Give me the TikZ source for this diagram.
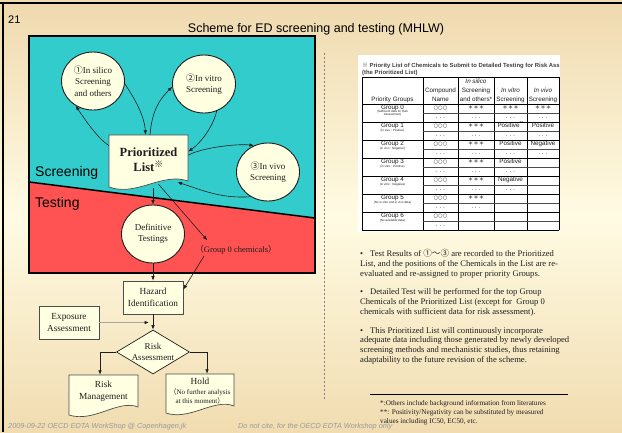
\documentclass[tikz,border=0pt]{standalone}
\usepackage{fontspec}
\setmainfont{Liberation Serif}
\setsansfont{Liberation Sans}
\newfontfamily\cjk{Noto Sans CJK JP}
\newfontfamily\dvs{DejaVu Sans}
\usetikzlibrary{shapes.geometric,arrows.meta,calc}
\definecolor{bgtop}{HTML}{EFD9AE}
\definecolor{bgmid}{HTML}{FFFBE3}
\definecolor{bgbot}{HTML}{F1DCB0}
\definecolor{tealfill}{HTML}{33CCCC}
\definecolor{redfill}{HTML}{FF5252}
\definecolor{cream}{HTML}{FFFFE2}
\definecolor{ink}{HTML}{1E1E1E}
\definecolor{footgray}{HTML}{9A9A9A}
\newcommand{\fsz}[2]{\fontsize{#1}{#2}\selectfont}
\newcommand{\bul}{\makebox[10pt][l]{•}}
\tikzset{
  bubble/.style={ellipse, draw=ink, line width=0.9pt, fill=cream, inner sep=0pt,
    minimum width=63pt, minimum height=58pt, align=center, font=\fsz{9}{11.5}, text=ink},
  boxn/.style={rectangle, draw=gray!60!black, line width=0.7pt, fill=cream, align=center,
    font=\fsz{9.3}{12.3}, text=ink, inner sep=0pt, minimum width=60pt, minimum height=33pt},
  docfill/.style={draw=gray!60!black, line width=0.7pt, fill=cream},
  txt/.style={inner sep=0pt, align=center, text=ink},
  arr/.style={draw=ink, line width=0.6pt, -{Latex[length=4.5pt,width=3.6pt]}},
  region/.style={font=\sffamily\fsz{14}{16}, text=black, inner sep=0pt, anchor=base west},
  tcell/.style={font=\sffamily\fsz{6.3}{7}, text=ink, inner sep=0pt, anchor=base},
  tnote/.style={font=\sffamily\fsz{3}{3.5}, text=ink, inner sep=0pt, anchor=base},
  ttl/.style={font=\sffamily\bfseries\fsz{5.9}{7}, text=ink!85, inner sep=0pt, anchor=base west},
  tgrid/.style={draw=black, line width=1pt},
  tsub/.style={draw=black!70, line width=1.2pt},
  bline/.style={font=\fsz{8.6}{10}, text=ink, inner sep=0pt, anchor=base west},
  footnote/.style={font=\fsz{7.2}{9}, text=ink, inner sep=0pt, anchor=base west},
  footer/.style={font=\sffamily\itshape\fsz{7.3}{8}, text=footgray, inner sep=0pt, anchor=base west},
}
\begin{document}
\begin{tikzpicture}[x=1pt,y=-1pt]
\useasboundingbox (0,0) rectangle (622,432);
\shade[top color=bgtop, bottom color=bgbot, middle color=bgmid] (0,0) rectangle (622,432);
\draw[black, line width=2pt] (0,3) -- (622,3);
\draw[black, line width=2pt] (3,3) -- (3,432);

% title
\node[font=\sffamily\fsz{11}{13}, inner sep=0pt, anchor=base west] (pageno) at (8,23) {21};
\node[font=\sffamily\fsz{12.5}{15}, inner sep=0pt, anchor=base] (title) at (316,32) {Scheme for ED screening and testing (MHLW)};

% coloured regions
\fill[tealfill] (29,36) -- (315,36) -- (315,218) -- (29,182) -- cycle;
\fill[redfill] (29,182) -- (315,218) -- (315,273) -- (29,273) -- cycle;
\draw[black, line width=1.5pt] (29,182) -- (315,218);
\draw[black, line width=2pt] (29,36) rectangle (315,273);
\node[region] (scr) at (35,176) {Screening};
\node[region] (tst) at (35,207) {Testing};

% dashed separator
\draw[gray, line width=0.6pt, dash pattern=on 2pt off 2pt] (324,53) -- (324,400);

% screening nodes
\node[bubble] (silico) at (93,81) {{\cjk ①}In silico\\Screening\\and others};
\node[bubble] (vitro) at (204,84) {{\cjk ②}In vitro\\Screening};
\node[bubble] (vivo) at (268,172) {{\cjk ③}In vivo\\Screening};
\draw[docfill] (109,135) -- (188,135) -- (188,181) .. controls (162,172) and (136,197) .. (109,187) -- cycle;
\node[txt, font=\bfseries\fsz{12.5}{15}, minimum width=79pt, minimum height=50pt] (plist) at (148.5,160) {Prioritized\\List\textsuperscript{\cjk ※}};
\node[bubble] (defin) at (153,234) {Definitive\\Testings};
\node[txt, font=\fsz{8.5}{10}] (g0) at (236,250) {{\cjk （}Group 0 chemicals{\cjk ）}};

% lower flow
\node[boxn] (haz) at (153,297.5) {Hazard\\Identification};
\node[boxn] (expo) at (69,322.5) {Exposure\\Assessment};
\node[diamond, draw=ink, line width=0.7pt, fill=cream, aspect=1.66, inner sep=0pt,
  minimum width=73pt, minimum height=44pt, align=center, font=\fsz{9}{10.6}, text=ink] (risk) at (153,352) {Risk\\Assessment};
\draw[docfill] (69,375) -- (138,375) -- (138,407) .. controls (118,399) and (94,423) .. (69,415) -- cycle;
\node[txt, font=\fsz{9.3}{12.3}, minimum width=69pt, minimum height=32pt] (rm) at (103.5,391) {Risk\\Management};
\draw[docfill] (166,374) -- (234,374) -- (234,406) .. controls (214,398) and (190,421) .. (166,413) -- cycle;
\node[inner sep=0pt, minimum width=68pt, minimum height=32pt] (hold) at (200,390) {};
\node[txt, font=\fsz{9.3}{11}, anchor=base] (holdt) at (200,384.5) {Hold};
\node[txt, font=\fsz{7}{8.7}] (holdn) at (200,396.5) {{\cjk （}No further analysis\\at this moment{\cjk ）}};

% connectors
\draw[arr] (plist.160) .. controls +(-12,-8) and +(8,12) .. (silico.235);
\draw[arr] (silico.-5) .. controls +(8,12) and +(-1,-20) .. ([xshift=-3pt]plist.north);
\draw[arr] ([xshift=1.5pt]plist.north) .. controls +(2,-25) and +(-12,12) .. (vitro.185);
\draw[arr] (vitro.295) .. controls +(-3,15) and +(12,-8) .. (plist.12);
\draw[arr] (plist.7) .. controls +(15,-8) and +(-15,-2) .. (vivo.118);
\draw[arr] (vivo.235) .. controls +(-30,2) and +(25,8) .. ($(plist.south)+(29,-3)$);
\draw[arr] ($(plist.south -| defin.north)+(0,3)$) -- (defin.north);
\draw[arr] ($(plist.south)+(10,-1)$) -- ($(g0.north west)+(12,-5)$);
\draw[arr] ($(g0.south west)+(9,1)$) -- ([yshift=8pt]haz.east);
\draw[arr] (defin.south) -- (haz.north);
\draw[arr] (haz.south) -- (risk.north);
\draw[draw=gray!70, line width=1.2pt, -{Latex[length=4.5pt,width=3.6pt,color=ink]}] (expo.east) -- ([xshift=-4pt]expo.east -| risk.north);
\draw[arr, line width=0.8pt] (risk.west) -| ([xshift=-3.5pt]rm.north);
\draw[arr, line width=0.8pt] (risk.east) -| ([xshift=7pt]hold.north);

% table
\fill[white] (358,55) rectangle (560,232);
\node[ttl] (ttitle) at (362,67) {{\cjk ※} Priority List of Chemicals to Submit to Detailed Testing for Risk Ass};
\node[ttl] (ttitle2) at (362,74.5) {(the Prioritized List)};
\foreach \x in {362,423,458,494,527,559} \draw[tgrid] (\x,77) -- (\x,230);
\draw[tgrid] (362,77) -- (559,77);
\foreach \i in {0,...,7} \draw[tgrid] (362,{104+18*\i}) -- (559,{104+18*\i});
\foreach \i in {0,...,6} \draw[tsub] (423,{113.5+18*\i}) -- (559,{113.5+18*\i});
\node[tcell] (hpg) at (392.5,101.5) {Priority Groups};
\node[tcell] (hcn1) at (440.5,92.5) {Compound};
\node[tcell] (hcn2) at (440.5,101.5) {Name};
\node[tcell] (hsi1) at (476,83) {\itshape In silico};
\node[tcell] (hsi2) at (476,92.5) {Screening};
\node[tcell] (hsi3) at (476,101.5) {and others*};
\node[tcell] (hvt1) at (510.5,92.5) {\itshape In vitro};
\node[tcell] (hvt2) at (510.5,101.5) {Screening};
\node[tcell] (hvv1) at (543,92.5) {\itshape In vivo};
\node[tcell] (hvv2) at (543,101.5) {Screening};
\foreach \i in {0,...,6} {
  \node[tcell] (grp\i) at (392.5,{109+18*\i}) {Group \i};
  \node[tcell] (cmp\i) at (440.5,{109+18*\i}) {\dvs\fsz{5.2}{6}○○○};
  \node[tcell] (cmpd\i) at (440.5,{119.5+18*\i}) {\fsz{6}{6}· · ·};
}
\foreach \i in {0,...,5} {
  \node[tcell] (sil\i) at (476,{109+18*\i}) {\cjk\fsz{5.5}{6}＊＊＊};
  \node[tcell] (sild\i) at (476,{119.5+18*\i}) {\fsz{6}{6}· · ·};
}
\foreach \i in {0,...,4} \node[tcell] (vtd\i) at (510.5,{119.5+18*\i}) {\fsz{6}{6}· · ·};
\foreach \i in {0,...,2} \node[tcell] (vvd\i) at (543,{119.5+18*\i}) {\fsz{6}{6}· · ·};
\node[tcell] (vt0) at (510.5,109) {\cjk\fsz{5.5}{6}＊＊＊};
\node[tcell] (vt1) at (510.5,127) {Positive\textsuperscript{**}};
\node[tcell] (vt2) at (510.5,145) {Positive};
\node[tcell] (vt3) at (510.5,163) {Positive};
\node[tcell] (vt4) at (510.5,181) {Negative};
\node[tcell] (vv0) at (543,109) {\cjk\fsz{5.5}{6}＊＊＊};
\node[tcell] (vv1) at (543,127) {Positive};
\node[tcell] (vv2) at (543,145) {Negative};
\node[tnote] (n0a) at (392.5,112.3) {(Sufficient data for Risk};
\node[tnote] (n0b) at (392.5,115.8) {Assessment)};
\node[tnote] (n1) at (392.5,131.5) {(in vivo : Positive)};
\node[tnote] (n2) at (392.5,149.5) {(in vivo : Negative)};
\node[tnote] (n3) at (392.5,167.5) {(in vitro : Positive)};
\node[tnote] (n4) at (392.5,185.5) {(in vitro : Negative)};
\node[tnote] (n5) at (392.5,203.5) {(No in vitro and in vivo data)};
\node[tnote] (n6) at (392.5,221.5) {(No available data)};

% bullets
\node[bline] (b1a) at (360,256.5) {\bul Test Results of {\cjk ①～③} are recorded to the Prioritized};
\node[bline] (b1b) at (360,266.2) {List, and the positions of the Chemicals in the List are re-};
\node[bline] (b1c) at (360,276) {evaluated and re-assigned to proper priority Groups.};
\node[bline] (b2a) at (360,294.5) {\bul Detailed Test will be performed for the top Group};
\node[bline] (b2b) at (360,304.2) {Chemicals of the Prioritized List (except for\ \ Group 0};
\node[bline] (b2c) at (360,314) {chemicals with sufficient data for risk assessment).};
\node[bline] (b3a) at (360,333) {\bul This Prioritized List will continuously incorporate};
\node[bline] (b3b) at (360,342.7) {adequate data including those generated by newly developed};
\node[bline] (b3c) at (360,352.5) {screening methods and mechanistic studies, thus retaining};
\node[bline] (b3d) at (360,362.2) {adaptability to the future revision of the scheme.};

% footnotes
\draw[black, line width=0.9pt] (370,394) -- (568,394);
\node[footnote] (f1) at (380,405.5) {*:Others include background information from literatures};
\node[footnote] (f2) at (380,414.5) {**: Positivity/Negativity can be substituted by measured};
\node[footnote] (f3) at (380,423.5) {values including IC50, EC50, etc.};

% footer
\node[footer] (ft1) at (8,428) {2009-09-22 OECD EDTA WorkShop @ Copenhagen,jk};
\node[footer] (ft2) at (238,428) {Do not cite, for the OECD EDTA Workshop only};
\end{tikzpicture}
\end{document}
